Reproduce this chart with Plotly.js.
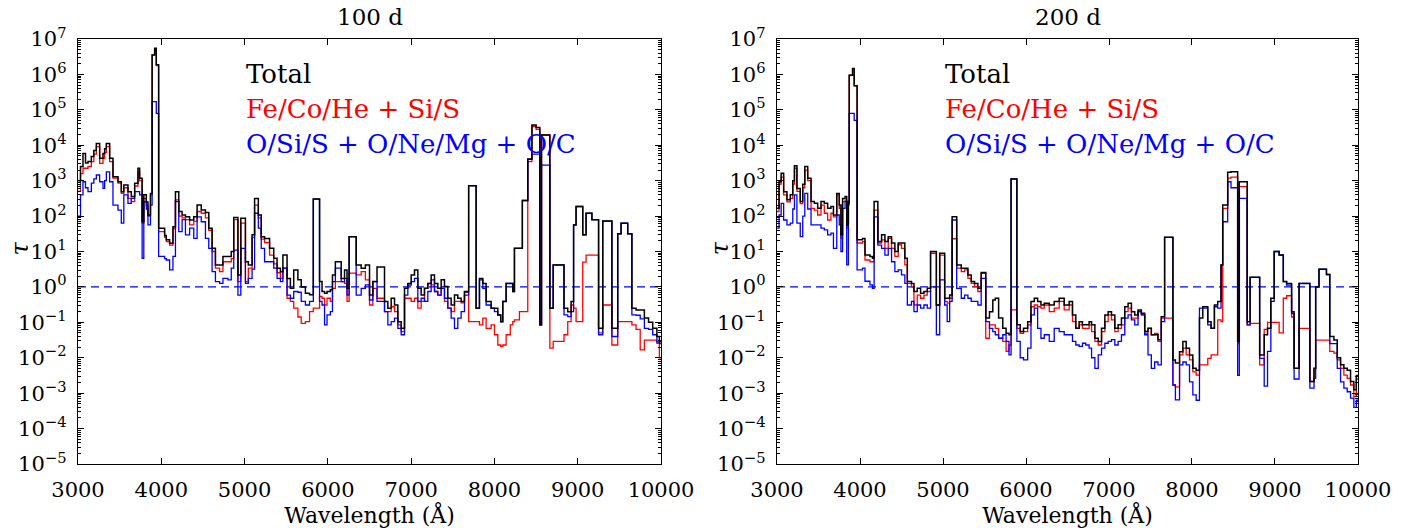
<!DOCTYPE html>
<html><head><meta charset="utf-8">
<script src="https://cdn.plot.ly/plotly-3.0.1.min.js"></script>
<style>html,body{margin:0;padding:0;background:#fff}#chart{width:1417px;height:528px}</style>
</head><body><div id="chart"></div>
<script>
// ---------- 100 d panel (step breakpoints in Angstrom, values are log10 tau) ----------
const lam100 = [3000,3030,3060,3090,3120,3160,3190,3220,3260,3300,3320,3340,3380,3420,3480,3520,3550,3600,3640,3680,3720,3740,3770,3790,3820,3840,3870,3890,3920,3940,3968,4040,4060,4100,4140,4170,4210,4250,4290,4340,4390,4430,4480,4530,4570,4610,4650,4700,4740,4800,4840,4870,4920,4955,5010,5045,5090,5120,5165,5200,5240,5300,5350,5390,5430,5460,5510,5550,5590,5640,5680,5730,5780,5825,5900,5930,5960,5990,6030,6055,6090,6160,6200,6230,6255,6340,6400,6450,6500,6540,6590,6680,6720,6760,6800,6840,6880,6920,6960,7000,7040,7080,7120,7160,7200,7240,7280,7320,7360,7400,7440,7480,7520,7560,7600,7640,7690,7780,7820,7860,7900,7960,8000,8040,8075,8100,8140,8190,8220,8240,8300,8335,8400,8450,8500,8545,8565,8665,8705,8835,8880,8920,8950,8980,9060,9100,9170,9250,9300,9410,9480,9520,9600,9650,9700,9750,9800,9850,9900,9950,9980,10000];
const total100Log = [3.0,3.4,3.77,3.5,3.54,3.68,3.85,4.05,3.63,3.77,3.9,4.05,3.63,3.11,2.97,2.69,2.88,2.69,2.55,2.93,3.35,3.07,1.84,2.6,2.4,2.03,2.64,6.55,6.74,6.27,1.66,1.45,1.33,1.23,1.70,2.69,2.13,2.03,1.98,1.89,1.98,2.31,2.17,2.1,1.66,1.09,0.62,0.62,0.86,0.86,1.0,1.96,0.34,1.94,0.71,0.62,1.47,2.5,2.03,1.42,1.37,1.09,0.81,0.53,0.43,0.90,0.24,-0.04,0.48,0.2,0.0,-0.18,-0.22,2.48,0.15,-0.13,-0.18,-0.13,-0.08,0.34,0.71,0.24,0.48,-0.04,1.42,0.62,0.53,0.62,-0.23,0.15,0.56,-0.41,-0.6,-0.32,-0.51,-0.98,-1.17,-0.04,0.1,0.34,0.48,-0.04,-0.23,-0.04,0.1,0.34,0.1,-0.04,0.2,0.01,-0.32,-0.51,-0.23,-0.32,-0.41,-0.13,2.86,-0.6,0.24,0.1,-0.41,-0.6,-0.6,-0.79,-0.98,-0.41,0.1,0.1,-0.13,1.09,1.09,2.44,3.61,4.57,4.5,-1.07,4.29,-0.6,0.62,-0.6,-0.7,-0.41,1.75,2.27,1.47,2.08,1.9,-1.17,1.86,-1.17,1.5,1.8,1.5,-0.6,-0.65,-0.65,-0.88,-1.0,-1.17,-1.4,-1.55,-1.55];
const feco100Log = [2.7,3.2,3.35,3.35,3.40,3.54,3.75,3.96,3.49,3.63,3.8,3.96,3.54,3.07,2.93,2.64,2.80,2.5,2.41,2.85,3.25,3.0,1.8,2.5,2.3,2.0,2.6,6.55,6.7,6.25,1.56,1.4,1.28,1.18,1.65,2.46,2.0,1.95,1.9,1.75,1.85,2.13,2.08,1.95,1.6,1.0,0.53,0.43,0.71,0.71,0.8,1.9,0.15,1.80,0.15,0.53,1.4,2.31,1.95,1.35,1.25,0.9,0.65,0.4,0.24,0.53,-0.32,-0.41,-0.6,-0.85,-1.03,-0.98,-0.7,-0.6,-0.27,-0.32,-0.51,-0.32,-0.41,-0.04,0.15,0.15,0.1,-0.41,0.39,0.34,0.43,0.2,-0.51,-0.04,-0.32,-0.70,-0.70,-0.56,-0.70,-1.07,-1.26,-0.32,-0.32,-0.41,-0.32,-0.6,-0.41,-0.04,0.1,0.06,-0.13,-0.23,-0.04,-0.41,-0.6,-0.70,-0.41,-0.41,-0.45,-0.15,-0.98,-0.98,-1.07,-0.88,-1.17,-1.07,-1.35,-1.64,-1.68,-1.64,-1.35,-1.07,-0.98,-0.93,-0.70,-0.70,3.54,4.53,4.45,-1.07,4.29,-1.73,-1.54,-1.35,-0.98,-0.51,-0.6,-0.98,0.7,0.9,0.9,-1.3,-0.51,-1.64,-0.98,-0.98,-0.98,-1.07,-1.2,-1.78,-1.5,-1.5,-1.5,-1.59,-2.0,-2.0];
const oxy100Log = [2.0,2.6,2.97,2.8,2.69,2.93,3.05,3.16,2.97,2.78,3.0,3.25,2.97,2.31,2.17,1.80,2.6,2.36,2.5,2.69,2.69,2.6,0.81,2.4,2.2,1.75,2.31,5.23,5.23,4.9,0.86,0.8,0.76,0.48,0.86,2.41,1.56,1.9,1.47,1.66,1.37,1.98,1.84,1.37,1.09,0.43,0.15,0.10,0.24,0.2,0.53,1.04,-0.23,1.09,0.1,0.24,0.5,2.08,1.66,1.09,0.71,0.71,0.53,0.24,0.15,0.53,-0.23,-0.32,-0.13,-0.15,-0.41,-0.51,-0.41,2.48,-0.41,-0.51,-1.07,-0.79,-0.7,0.15,0.53,0.15,0.24,-0.23,1.42,-0.23,-0.04,0.06,-0.37,0.15,-0.41,-0.70,-1.07,-0.98,-0.88,-1.17,-1.35,-0.23,0.05,0.15,0.24,-0.41,-0.32,-0.41,-0.13,0.2,-0.13,-0.23,-0.04,-0.32,-0.6,-0.88,-1.17,-0.88,-0.70,-0.23,2.86,-0.6,0.2,-0.04,-0.51,-0.6,-0.7,-0.79,-0.98,-0.41,0.1,0.1,-0.13,1.09,1.09,2.44,3.6,3.75,3.75,-1.07,3.44,-0.6,0.62,-0.79,-0.84,-0.70,1.75,2.27,1.47,2.08,1.9,-1.35,1.86,-1.4,1.5,1.8,1.5,-0.79,-0.8,-0.9,-1.17,-1.2,-1.35,-1.55,-1.6,-1.6];

// ---------- 200 d panel ----------
const lam200 = [3000,3025,3050,3080,3120,3160,3190,3210,3240,3280,3310,3335,3370,3410,3450,3490,3530,3570,3610,3650,3680,3720,3750,3770,3790,3820,3840,3860,3870,3910,3930,3965,4030,4060,4120,4150,4170,4215,4260,4300,4340,4380,4420,4460,4500,4540,4570,4620,4650,4690,4730,4770,4810,4850,4920,4960,5020,5050,5080,5110,5165,5220,5260,5300,5340,5380,5420,5460,5515,5560,5600,5630,5670,5720,5760,5795,5820,5890,5930,5970,6020,6060,6100,6140,6180,6220,6280,6340,6400,6460,6520,6560,6600,6640,6680,6720,6760,6790,6830,6870,6910,6950,6990,7030,7070,7110,7150,7190,7230,7270,7310,7350,7390,7430,7470,7510,7550,7590,7630,7670,7770,7800,7850,7890,7930,7970,8010,8050,8090,8130,8190,8230,8270,8310,8350,8370,8430,8470,8550,8570,8665,8700,8815,8870,8910,8950,8990,9050,9100,9140,9200,9230,9290,9420,9470,9490,9530,9620,9660,9710,9750,9790,9830,9870,9910,9950,9980,10000];
const total200Log = [2.22,2.97,3.21,2.69,2.46,2.6,3.0,3.42,2.78,2.41,2.9,3.4,3.07,2.41,2.36,2.22,2.41,2.36,2.22,2.27,2.03,2.64,2.31,1.47,2.5,2.55,1.75,2.41,5.98,6.17,5.68,1.33,1.37,0.9,0.86,0.81,2.41,1.28,1.47,1.28,1.42,1.24,1.0,1.24,1.24,0.81,0.15,0.1,-0.13,-0.04,-0.18,-0.13,-0.04,1.0,-0.51,0.95,-0.32,-0.32,-0.23,1.98,0.62,0.53,0.53,0.34,0.15,0.1,-0.04,0.41,-0.88,-0.70,-0.37,-0.32,-0.88,-1.17,-1.31,-1.35,3.05,-1.07,-1.26,-1.17,-0.98,-0.41,-0.32,-0.41,-0.51,-0.46,-0.51,-0.41,-0.32,-0.51,-0.41,-0.79,-1.17,-0.98,-1.07,-1.07,-0.98,-1.07,-1.45,-1.54,-1.17,-0.79,-0.70,-0.79,-1.17,-1.07,-0.88,-0.56,-0.46,-0.70,-0.79,-0.65,-0.74,-1.26,-1.17,-1.35,-1.35,-1.49,-0.84,1.40,-2.06,-2.15,-1.83,-1.54,-1.73,-1.92,-2.3,-2.35,-0.88,-0.56,-0.98,-1.17,-0.51,-0.41,0.62,2.31,3.24,3.25,-1.54,2.97,-0.98,0.27,-1.92,-1.35,-1.17,-0.32,1.0,0.9,0.15,0.1,-0.7,-2.3,0.1,-2.67,-2.3,0.0,0.5,0.35,-1.4,-1.5,-2.0,-2.2,-2.3,-2.35,-2.67,-2.9,-2.5,-2.5];
const feco200Log = [2.13,2.9,3.1,2.6,2.4,2.5,2.9,3.35,2.7,2.35,2.8,3.3,3.0,2.22,2.17,2.03,2.31,2.08,1.89,2.08,1.98,2.6,2.22,1.37,2.41,2.45,1.66,2.31,5.98,5.98,5.68,1.24,1.28,0.76,0.71,0.71,2.17,1.24,1.33,1.09,1.37,1.09,0.86,1.19,1.09,0.62,0.1,0.0,-0.51,-0.23,-0.32,-0.23,-0.13,0.95,-0.51,0.9,-0.41,-0.46,-0.32,1.36,0.53,0.43,0.48,0.24,0.1,0.01,-0.13,0.38,-1.45,-1.07,-1.07,-1.17,-1.45,-1.54,-1.82,-1.64,-0.65,-1.17,-1.31,-1.26,-1.07,-0.56,-0.51,-0.56,-0.60,-0.51,-0.70,-0.60,-0.41,-0.65,-0.51,-0.98,-1.17,-1.07,-1.17,-1.17,-1.07,-1.26,-1.54,-1.64,-1.26,-0.98,-0.79,-0.93,-1.26,-1.17,-1.07,-0.70,-0.60,-0.88,-0.88,-0.70,-0.79,-1.31,-1.17,-1.35,-1.31,-1.54,-0.88,-0.88,-2.77,-2.82,-1.92,-1.73,-1.92,-2.06,-2.4,-2.49,-2.2,-2.2,-2.02,-1.92,-1.92,-0.93,-0.98,2.22,3.07,3.1,-1.6,2.83,-1.07,-1.03,-2.2,-1.2,-1.0,-1.0,-1.0,-1.3,-0.32,-0.25,-0.85,-2.3,-1.17,-2.67,-2.3,-1.5,-1.5,-1.5,-1.82,-1.87,-2.06,-2.3,-2.49,-2.58,-2.77,-3.1,-2.6,-2.6];
const oxy200Log = [1.66,2.03,2.36,1.89,1.75,1.8,2.2,2.6,1.8,1.42,2.0,2.64,2.2,1.75,1.75,1.75,1.66,1.61,1.47,1.52,1.09,2.03,1.75,1.0,2.22,2.41,0.62,2.36,4.9,4.9,4.7,0.48,0.53,0.16,0.06,-0.04,1.98,1.18,1.09,0.9,1.09,0.71,0.43,0.48,0.34,0.1,-0.51,-0.41,-0.7,-0.51,-0.6,-0.51,-0.6,0.0,-1.35,0.2,-0.51,-0.98,-0.41,1.89,-0.04,-0.32,-0.23,-0.32,-0.41,-0.41,-0.51,0.24,-0.98,-1.17,-1.26,-1.35,-1.45,-1.35,-1.54,-1.92,3.05,-1.54,-2.0,-2.06,-1.73,-0.79,-0.60,-1.17,-1.45,-1.35,-1.54,-1.17,-1.26,-1.35,-1.35,-1.54,-1.64,-1.68,-1.59,-1.64,-1.73,-2.0,-2.3,-1.92,-1.73,-1.59,-1.54,-1.49,-1.64,-1.54,-1.35,-0.88,-0.79,-0.93,-1.07,-0.70,-0.79,-1.35,-1.92,-2.3,-2.12,-2.2,-0.98,1.40,-2.77,-3.19,-2.2,-2.12,-2.2,-2.68,-3.05,-3.2,-0.6,-0.6,-1.07,-1.17,-0.56,-0.60,0.62,1.84,2.97,2.8,-2.5,2.5,-1.07,0.27,-2.02,-2.8,-1.82,-0.41,1.0,0.9,0.15,0.05,-0.75,-2.6,0.1,-2.86,-2.58,0.0,0.5,0.35,-1.6,-1.6,-2.3,-2.68,-2.86,-2.96,-3.14,-3.4,-3.2,-3.2];

const panelTitles = ['100 d', '200 d'];
const seriesNames = ['Total', 'Fe/Co/He + Si/S', 'O/Si/S + O/Ne/Mg + O/C'];
const seriesColors = ['#000000', '#ff0000', '#0000ff'];
const xTickVals = [3000,4000,5000,6000,7000,8000,9000,10000];
const yDecades = [-5,-4,-3,-2,-1,0,1,2,3,4,5,6,7];
const refTau = 1;

const toTau = a => a.map(v => Math.pow(10, v));
const FONT = "'DejaVu Serif', serif";

const panels = [
  {lam: lam100, series: [total100Log, feco100Log, oxy100Log], xa: 'x', ya: 'y'},
  {lam: lam200, series: [total200Log, feco200Log, oxy200Log], xa: 'x2', ya: 'y2'}
];

const drawOrder = [1, 2, 0]; // red, blue, then black on top
const traces = [];
panels.forEach(p => {
  traces.push({x: [xTickVals[0], xTickVals[xTickVals.length-1]], y: [refTau, refTau], xaxis: p.xa, yaxis: p.ya,
    mode: 'lines', line: {color: '#0000ff', width: 1.2, dash: '8px,5px'}, showlegend: false, hoverinfo: 'skip'});
  drawOrder.forEach(i => {
    traces.push({x: p.lam, y: toTau(p.series[i]), xaxis: p.xa, yaxis: p.ya, mode: 'lines', name: seriesNames[i],
      line: {color: seriesColors[i], width: i === 0 ? 1.5 : 1.3, shape: 'hv'}, showlegend: false});
  });
});

const yTickText = yDecades.map(d => '10<sup>' + (d < 0 ? '\u2212' + (-d) : d) + '</sup>');
const yTickVals = yDecades.map(d => Math.pow(10, d));
const minorVals = [];
yDecades.slice(0, -1).forEach(d => { for (let k = 2; k <= 9; k++) minorVals.push(k * Math.pow(10, d)); });

function xAxis(domain, anchor) {
  return {domain, anchor, range: [3000, 10000], tickmode: 'array', tickvals: xTickVals, ticktext: xTickVals.map(String),
    ticks: 'inside', ticklen: 6, tickwidth: 1, tickcolor: '#000', showline: true, linecolor: '#000', linewidth: 1.3,
    mirror: 'ticks', showgrid: false, zeroline: false, ticklabelstandoff: 6,
    tickfont: {family: FONT, size: 21, color: '#000'},
    title: {text: 'Wavelength (\u00c5)', font: {family: FONT, size: 22, color: '#000'}, standoff: 0}};
}
function yAxis(anchor) {
  return {anchor, type: 'log', range: [-5, 7], tickmode: 'array', tickvals: yTickVals, ticktext: yTickText,
    ticks: 'inside', ticklen: 6, tickwidth: 1, tickcolor: '#000', showline: true, linecolor: '#000', linewidth: 1.3,
    mirror: 'ticks', showgrid: false, zeroline: false, ticklabelstandoff: 6,
    minor: {tickmode: 'array', tickvals: minorVals, ticks: 'inside', ticklen: 3, tickcolor: '#000', tickwidth: 1, showgrid: false},
    tickfont: {family: FONT, size: 21, color: '#000'}};
}

const annotations = [];
const tauX = [-0.045, 0.5016];
[['x', 'y'], ['x2', 'y2']].forEach((ax, k) => {
  annotations.push({xref: ax[0] + ' domain', yref: 'paper', x: 0.5, y: 1, yanchor: 'bottom', xanchor: 'center', yshift: 7,
    text: panelTitles[k], showarrow: false, font: {family: FONT, size: 23, color: '#000'}});
  annotations.push({xref: 'paper', yref: 'paper', x: tauX[k], y: 0.508, xanchor: 'center', yanchor: 'middle', textangle: -90,
    text: '<i>\u03c4</i>', showarrow: false, font: {family: FONT, size: 24, color: '#000'}});
  const ys = [0.918, 0.836, 0.754];
  seriesNames.forEach((n, i) => {
    annotations.push({xref: ax[0] + ' domain', yref: ax[1] + ' domain', x: 0.285, y: ys[i], xanchor: 'left', yanchor: 'middle',
      text: n, showarrow: false, font: {family: FONT, size: 26, color: seriesColors[i]}});
  });
});

const layout = {
  width: 1417, height: 528, paper_bgcolor: '#fff', plot_bgcolor: '#fff',
  margin: {l: 78, r: 59, t: 39, b: 64}, showlegend: false,
  xaxis: xAxis([0, 0.4555], 'y'), yaxis: yAxis('x'),
  xaxis2: xAxis([0.5461, 1], 'y2'), yaxis2: yAxis('x2'),
  annotations
};
Plotly.newPlot('chart', traces, layout, {staticPlot: true, displayModeBar: false});
</script></body></html>
